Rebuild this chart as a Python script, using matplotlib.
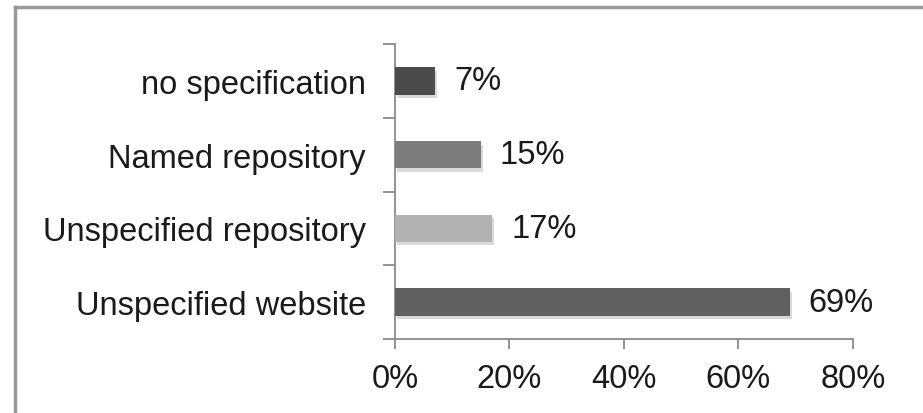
import matplotlib
matplotlib.use("Agg")
import matplotlib.pyplot as plt
import matplotlib.patheffects as pe
from matplotlib.lines import Line2D
from matplotlib.ticker import FixedLocator, PercentFormatter

categories = ["Unspecified website", "Unspecified repository", "Named repository", "no specification"]
shares = [69, 17, 15, 7]
bar_colors = ["#606060", "#b2b2b2", "#7c7c7c", "#4b4b4b"]
x_ticks = [0, 20, 40, 60, 80]

plt.rcParams['font.family'] = ['Liberation Sans', 'DejaVu Sans']

fig = plt.figure(figsize=(9.23, 4.14), dpi=100)
ax = fig.add_axes([0.428, 0.179, 0.496, 0.712])

pos = list(range(len(categories)))
bars = ax.barh(pos, shares, height=0.37, color=bar_colors, zorder=3)
for b in bars:
    b.set_path_effects([pe.SimplePatchShadow(offset=(1.5, -2.5), shadow_rgbFace="#d0d0d0", alpha=0.8),
                        pe.Normal()])

for p, v in zip(pos, shares):
    ax.text(v + 3.3, p, f"{v}%", va="center", ha="left", fontsize=23.5, color="#1a1a1a")

ax.set_xlim(0, 80)
ax.set_ylim(-0.5, len(categories) - 0.5)
ax.set_xticks(x_ticks)
ax.xaxis.set_major_formatter(PercentFormatter(decimals=0))
ax.set_yticks(pos)
ax.set_yticklabels(categories)
ax.yaxis.set_minor_locator(FixedLocator([p - 0.5 for p in pos] + [len(pos) - 0.5]))

for s in ["top", "right"]:
    ax.spines[s].set_visible(False)
for s in ["left", "bottom"]:
    ax.spines[s].set_color("#8a8a8a")
    ax.spines[s].set_linewidth(1.3)

ax.tick_params(axis="x", direction="out", length=7, width=1.3, color="#8a8a8a",
               labelsize=23.5, labelcolor="#1a1a1a", pad=10)
ax.tick_params(axis="y", which="major", length=0, labelsize=23.5, labelcolor="#1a1a1a", pad=21)
ax.tick_params(axis="y", which="minor", direction="out", length=9, width=1.3, color="#8a8a8a")

# outer frame (left and top only visible in the crop)
fig.add_artist(Line2D([15 / 923, 15 / 923], [0, 1 - 8 / 414], transform=fig.transFigure,
                      color="#999999", lw=2.5))
fig.add_artist(Line2D([15 / 923, 1], [1 - 8 / 414, 1 - 8 / 414], transform=fig.transFigure,
                      color="#999999", lw=2.5))

fig.savefig("out.png", dpi=100)
